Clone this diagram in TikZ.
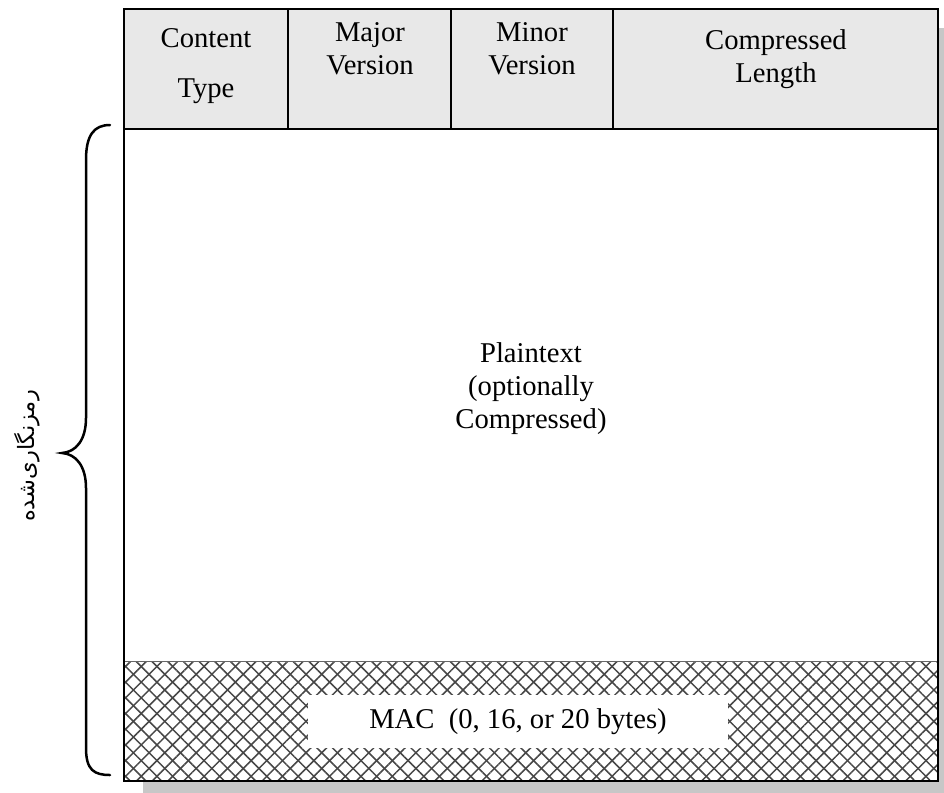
\documentclass[tikz,border=0pt]{standalone}
\usepackage{fontspec}
\setmainfont{Liberation Serif}
\newfontfamily\farsifont[Script=Arabic]{DejaVu Sans}
\TeXXeTstate=1
\usepackage{tikz}
\usetikzlibrary{patterns.meta,positioning}

\begin{document}
\begin{tikzpicture}[
  x=0.02cm, y=-0.02cm,
  frame/.style={draw, line width=0.04cm},
  rule/.style={draw, line width=0.03cm},
  cell/.style={align=center, inner sep=0pt, anchor=north, font=\fontsize{16.3}{18.8}\selectfont},
  hatchne/.style={pattern={Lines[angle=45, distance=0.222cm, line width=0.03cm]}, pattern color=black!72},
  hatchnw/.style={pattern={Lines[angle=-45, distance=0.222cm, line width=0.03cm]}, pattern color=black!72},
  brace/.style={draw, line width=0.05cm, line cap=round}
]
\useasboundingbox (0,0) rectangle (944,792);

% shadow and record frame
\fill[black!22] (143,28) rectangle (964,800);
\fill[white] (124,9) rectangle (938,781);
\fill[black!9] (124,9) rectangle (938,129);

% header fields
\node[cell] (ctype) at (206,28) {Content\\[9.6pt]Type};
\node[cell] (major) at (370,22) {Major\\Version};
\node[cell] (minor) at (532,22) {Minor\\Version};
\node[cell] (clen) at (776,29) {Compressed\\Length};
\foreach \x in {288,451,613}
  \draw[rule] (\x,9) -- (\x,129);
\draw[rule] (124,129) -- (938,129);

% payload
\node[cell, anchor=center] (plain) at (531,389) {Plaintext\\(optionally\\Compressed)};

% MAC trailer
\fill[hatchne] (124,661) rectangle (938,781);
\fill[hatchnw] (124,661) rectangle (938,781);
\draw[black!60, line width=0.015cm] (124,661) -- (938,661);
\node[fill=white, inner sep=0pt, minimum width=8.4cm, minimum height=1.06cm,
  font=\fontsize{16.3}{18.8}\selectfont] (mac) at (518,721.5) {MAC\ \ (0, 16, or 20 bytes)};

\draw[frame] (124,9) rectangle (938,781);

% encrypted part
\draw[brace] (110,125) .. controls (94,125) and (86,135) .. (86,160)
  -- (86,418) .. controls (86,440) and (76,452) .. (62,453)
  .. controls (76,454) and (86,466) .. (86,488)
  -- (86,748) .. controls (86,770) and (94,775) .. (110,775);
\node[rotate=90, inner sep=0pt, font=\farsifont\fontsize{12.8}{15}\selectfont] (enc) at (27,456)
  {\beginR رمزنگاری^^^^200cشده\endR};
\end{tikzpicture}
\end{document}
